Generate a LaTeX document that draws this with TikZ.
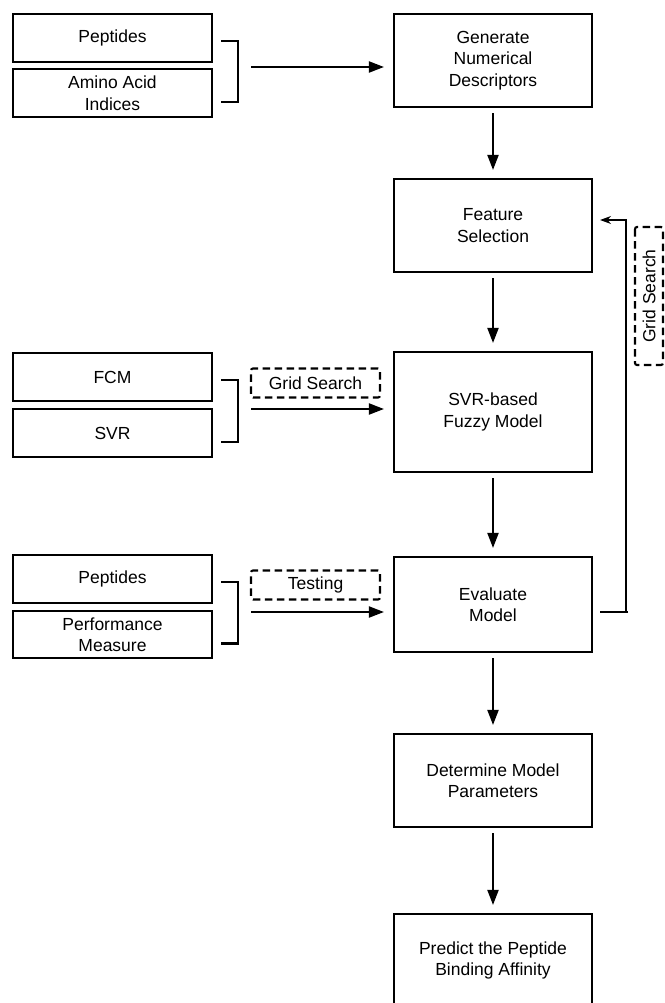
\documentclass[tikz,border=0pt]{standalone}
\usepackage{fontspec}
\setmainfont{Liberation Sans}
\usetikzlibrary{arrows.meta,calc}

\begin{document}
\begin{tikzpicture}[x=1pt, y=-1pt,
    every node/.style={font=\fontsize{17.5}{21.5}\selectfont},
    mainbox/.style={draw, line width=2.1pt, minimum width=198pt, minimum height=93pt, align=center, inner sep=2pt},
    inbox/.style={draw, line width=2.1pt, minimum width=199pt, minimum height=48pt, align=center, inner sep=1pt},
    tagbox/.style={draw, dash pattern=on 7.5pt off 4.5pt, line width=2.1pt, rounded corners=2pt, minimum width=129pt, minimum height=29pt, inner sep=1pt},
    flowarrow/.style={line width=2pt, -{Triangle[length=15pt,width=11pt]}},
    brace/.style={line width=2.1pt}]
    \clip (0,0) rectangle (664,1003);

    % Main column (top to bottom)
    \node[mainbox] (gen) at (493,60.5) {Generate\\Numerical\\Descriptors};
    \node[mainbox] (feat) at (493,225.5) {Feature\\Selection};
    \node[mainbox, minimum height=120pt] (svrfm) at (493,412) {SVR-based\\Fuzzy Model};
    \node[mainbox, minimum height=95pt] (evalm) at (493,604.5) {Evaluate\\Model};
    \node[mainbox] (detm) at (493,780.5) {Determine Model\\Parameters};
    \node[mainbox] (pred) at (493,960.5) {Predict the Peptide\\Binding Affinity};

    \foreach \a/\b in {gen/feat, feat/svrfm, svrfm/evalm, evalm/detm, detm/pred}
        \draw[flowarrow, shorten <=5pt, shorten >=8pt] (\a) -- (\b);

    % Inputs on the left
    \node[inbox] (pep) at (112.5,38) {Peptides};
    \node[inbox] (aai) at (112.5,93) {Amino Acid\\Indices};
    \node[inbox] (fcm) at (112.5,377) {FCM};
    \node[inbox] (svr) at (112.5,433) {SVR};
    \node[inbox] (pep2) at (112.5,579) {Peptides};
    \node[inbox, minimum height=47pt] (perf) at (112.5,634.5) {Performance\\Measure};

    % Brackets joining each pair
    \foreach \u/\l in {pep/aai, fcm/svr, pep2/perf}
        \draw[brace] ($(\u.east)+(8,3)$) -| ($(\l.east)+(25,9)$) -- ($(\l.east)+(8,9)$);

    \coordinate (in1) at (251,67);
    \coordinate (in2) at (251,409);
    \coordinate (in3) at (251,612);
    \draw[flowarrow, shorten >=9pt] (in1) -- (in1 -| gen.west);
    \draw[flowarrow, shorten >=9pt] (in2) -- (in2 -| svrfm.west);
    \draw[flowarrow, shorten >=9pt] (in3) -- (in3 -| evalm.west);

    \node[tagbox] (grid) at (315.5,383) {Grid Search};
    \node[tagbox] (test) at (315.5,585) {Testing};

    % Feedback loop from evaluation back to feature selection
    \coordinate (fbbot) at (626,612);
    \coordinate (fbtop) at (626,220);
    \draw[line width=2.6pt, shorten >=7pt] ($(fbbot)+(2,0)$) -- (fbbot -| evalm.east);
    \draw[line width=1.3pt] (fbbot) -- ($(fbtop)+(0,-1)$);
    \draw[line width=1.3pt, -{Stealth[length=11pt,width=8pt]}, shorten >=7pt] (fbtop) -- (fbtop -| feat.east);
    \node[tagbox, rotate=90, minimum width=138pt, minimum height=28pt] (gridv) at (649,296) {Grid Search};
\end{tikzpicture}
\end{document}
